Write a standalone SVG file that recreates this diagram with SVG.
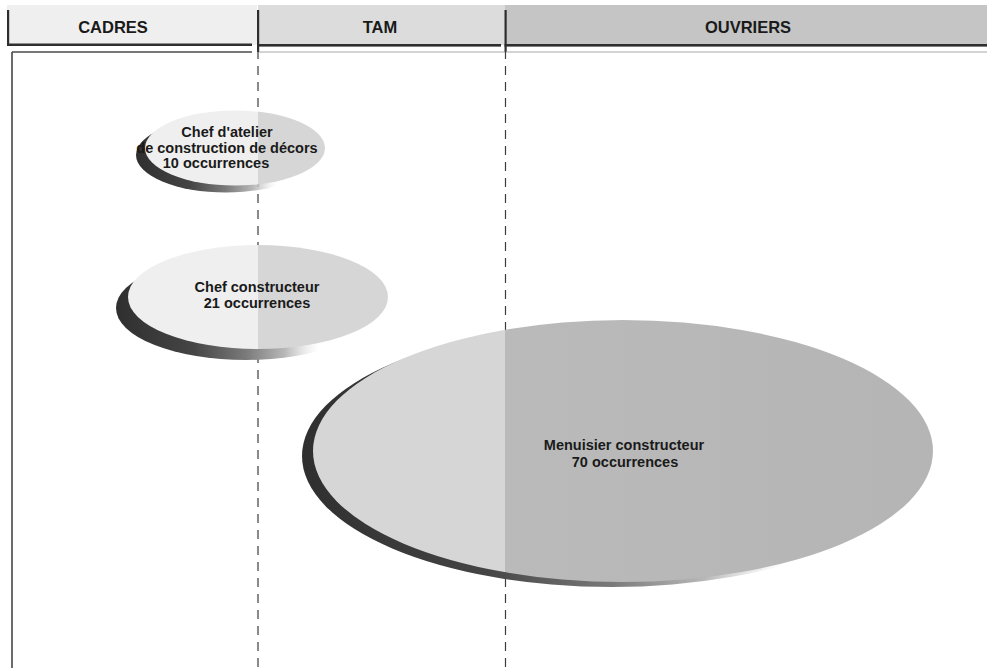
<svg xmlns="http://www.w3.org/2000/svg" width="987" height="668" viewBox="0 0 987 668">
  <style>
    .hdr { font-family: "Liberation Sans", Arial, sans-serif; font-weight: bold; font-size: 16.5px; fill: #1a1a1a; text-anchor: middle; }
    .lbl { font-family: "Liberation Sans", Arial, sans-serif; font-weight: bold; font-size: 14.5px; fill: #1a1a1a; text-anchor: middle; }
    .bar { fill: #2e2e2e; }
    .grid { stroke: #3c3c3c; stroke-width: 1.2; stroke-dasharray: 9 7; fill: none; }
    .frame { stroke: #3a3a3a; stroke-width: 1.5; fill: none; }
    .body { fill: url(#columns); }
    .shadow { fill: url(#shade); }
  </style>
  <defs>
    <!-- column tints: CADRES / TAM / OUVRIERS -->
    <linearGradient id="columns" gradientUnits="userSpaceOnUse" x1="0" y1="0" x2="987" y2="0">
      <stop offset="0" stop-color="#efefef"/>
      <stop offset="0.2614" stop-color="#efefef"/>
      <stop offset="0.2614" stop-color="#d6d6d6"/>
      <stop offset="0.5117" stop-color="#d6d6d6"/>
      <stop offset="0.5117" stop-color="#bababa"/>
      <stop offset="1" stop-color="#b4b4b4"/>
    </linearGradient>
    <!-- drop shadow crescent, dark on the left, fading out to the right -->
    <linearGradient id="shade" x1="0" y1="0" x2="1" y2="0">
      <stop offset="0" stop-color="#2f2f2f"/>
      <stop offset="0.3" stop-color="#454545"/>
      <stop offset="0.5" stop-color="#7a7a7a"/>
      <stop offset="0.65" stop-color="#b8b8b8"/>
      <stop offset="0.78" stop-color="#dddddd" stop-opacity="0"/>
    </linearGradient>
  </defs>

  <rect width="987" height="668" fill="#ffffff"/>

  <!-- column headers -->
  <g id="col-cadres">
    <rect x="7" y="5" width="250" height="40" fill="#efefef"/>
    <rect class="bar" x="7" y="10" width="2.2" height="36"/>
    <rect class="bar" x="7" y="43.5" width="245" height="2.5"/>
    <text class="hdr" x="113" y="33">CADRES</text>
  </g>
  <g id="col-tam">
    <rect x="258" y="5" width="247" height="40" fill="#dcdcdc"/>
    <rect class="bar" x="257" y="10" width="2.2" height="42"/>
    <rect class="bar" x="257" y="44" width="244" height="2.6"/>
    <text class="hdr" x="380" y="33">TAM</text>
  </g>
  <g id="col-ouvriers">
    <rect x="505" y="5" width="482" height="40" fill="#c5c5c5"/>
    <rect class="bar" x="504.5" y="10" width="2.2" height="42"/>
    <rect class="bar" x="504.5" y="44" width="483" height="2.6"/>
    <text class="hdr" x="748" y="33">OUVRIERS</text>
  </g>

  <!-- chart frame and column separators -->
  <g id="grid">
    <line x1="12" y1="52" x2="252" y2="52" stroke="#4a4a4a" stroke-width="1.3"/>
    <line x1="259" y1="52" x2="987" y2="52" stroke="#a8a8a8" stroke-width="1"/>
    <line class="frame" x1="12" y1="52" x2="12" y2="668"/>
    <line class="grid" x1="258" y1="50" x2="258" y2="668"/>
    <line class="grid" x1="505.5" y1="50" x2="505.5" y2="668"/>
  </g>

  <!-- occupations, ellipse size by number of occurrences -->
  <g id="chef-atelier">
    <ellipse class="shadow" cx="226" cy="155" rx="90" ry="37.5"/>
    <ellipse class="body" cx="235" cy="148" rx="90" ry="37.5"/>
    <text class="lbl" x="227" y="137">Chef d'atelier</text>
    <text class="lbl" x="227" y="153">de construction de décors</text>
    <text class="lbl" x="216" y="168">10 occurrences</text>
  </g>

  <g id="chef-constructeur">
    <ellipse class="shadow" cx="246" cy="308" rx="130" ry="52"/>
    <ellipse class="body" cx="258" cy="297" rx="130" ry="52"/>
    <text class="lbl" x="257" y="292">Chef constructeur</text>
    <text class="lbl" x="257" y="308">21 occurrences</text>
  </g>

  <g id="menuisier-constructeur">
    <ellipse class="shadow" cx="612" cy="456" rx="310" ry="131"/>
    <ellipse class="body" cx="623" cy="451" rx="310" ry="131"/>
    <text class="lbl" x="624" y="450">Menuisier constructeur</text>
    <text class="lbl" x="625" y="467">70 occurrences</text>
  </g>
</svg>
